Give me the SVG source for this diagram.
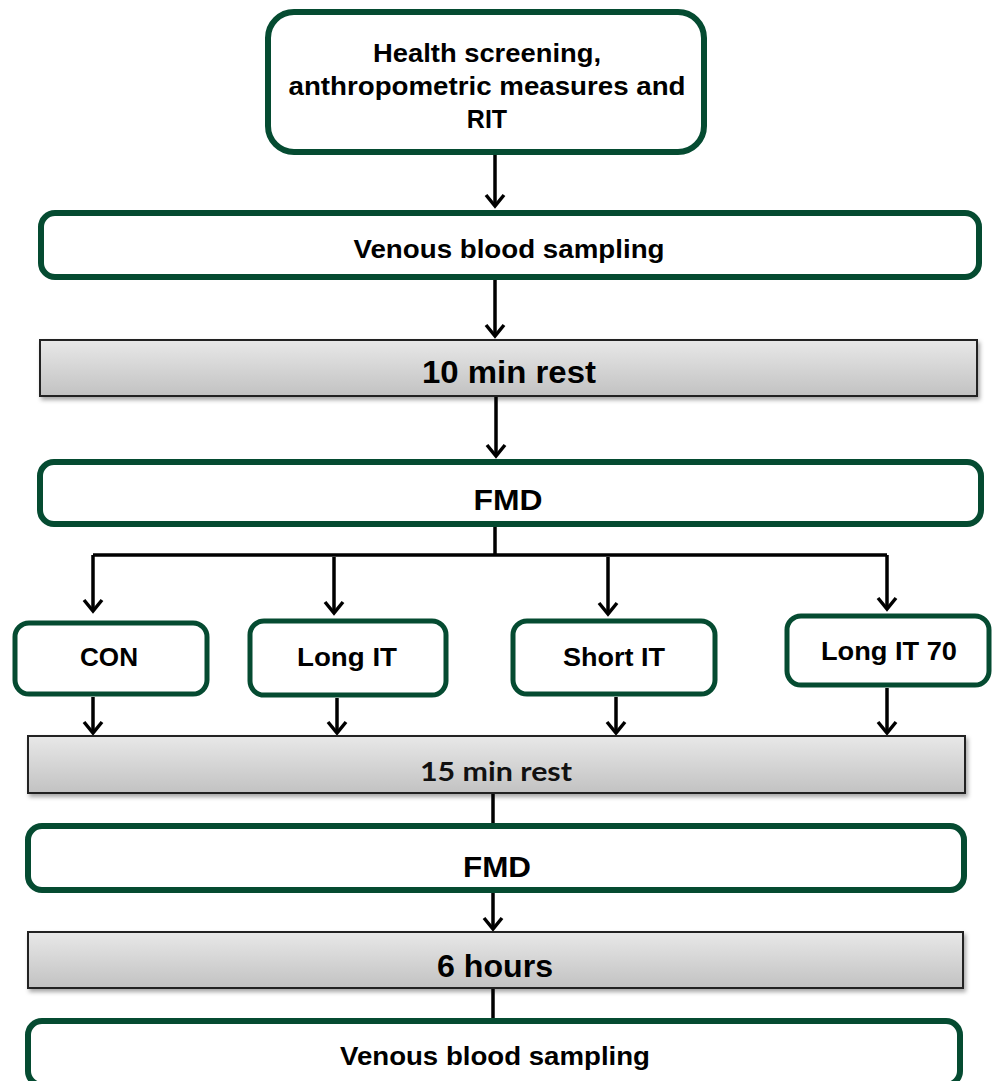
<svg xmlns="http://www.w3.org/2000/svg" xmlns:xlink="http://www.w3.org/1999/xlink" width="992" height="1081" viewBox="0 0 992 1081">
<defs>
<linearGradient id="gray" x1="0" y1="0" x2="0" y2="1">
<stop offset="0" stop-color="#e8e8e8"/>
<stop offset="1" stop-color="#c2c2c2"/>
</linearGradient>
<filter id="shadow" x="-5%" y="-20%" width="110%" height="150%">
<feDropShadow dx="2" dy="3" stdDeviation="2" flood-color="#000" flood-opacity="0.35"/>
</filter>
<path id="ah" d="M-9,-12 L0,-1 L9,-12"/>
</defs>
<style>
.g{fill:#fff;stroke:#054b31;stroke-width:6}
.gs{fill:#fff;stroke:#054b31;stroke-width:5}
.r{fill:url(#gray);stroke:#222;stroke-width:2;filter:url(#shadow)}
.t{font-family:"Liberation Sans",Arial,sans-serif;font-weight:bold;fill:#000;text-anchor:middle}
.c{font-family:Lato,"Open Sans",sans-serif;font-weight:bold;fill:#111;text-anchor:middle}
.ln{fill:none;stroke:#000;stroke-width:3.5}
.a{fill:none;stroke:#000;stroke-width:3.5;stroke-linejoin:miter}
</style>
<rect width="992" height="1081" fill="#fff"/>
<g id="connectors">
<path class="ln" d="M495,155 V206"/>
<use class="a" href="#ah" xlink:href="#ah" x="495" y="207"/>
<path class="ln" d="M495,280 V336"/>
<use class="a" href="#ah" xlink:href="#ah" x="495" y="337"/>
<path class="ln" d="M496,396 V456"/>
<use class="a" href="#ah" xlink:href="#ah" x="496" y="457"/>
<path class="ln" d="M495,525 V555 M93,555 H887"/>
<path class="ln" d="M93,555 V611"/>
<use class="a" href="#ah" xlink:href="#ah" x="93" y="612"/>
<path class="ln" d="M334,557 V613"/>
<use class="a" href="#ah" xlink:href="#ah" x="334" y="614"/>
<path class="ln" d="M608,557 V614"/>
<use class="a" href="#ah" xlink:href="#ah" x="608" y="615"/>
<path class="ln" d="M887,555 V609"/>
<use class="a" href="#ah" xlink:href="#ah" x="887" y="610"/>
<path class="ln" d="M93,697 V733"/>
<use class="a" href="#ah" xlink:href="#ah" x="93" y="734"/>
<path class="ln" d="M337,698 V733"/>
<use class="a" href="#ah" xlink:href="#ah" x="337" y="734"/>
<path class="ln" d="M616,697 V733"/>
<use class="a" href="#ah" xlink:href="#ah" x="616" y="734"/>
<path class="ln" d="M887,688 V733"/>
<use class="a" href="#ah" xlink:href="#ah" x="887" y="734"/>
<path class="ln" d="M493,793 V824"/>
<path class="ln" d="M493,893 V929"/>
<use class="a" href="#ah" xlink:href="#ah" x="493" y="930"/>
<path class="ln" d="M493,988 V1019"/>
</g>
<g id="n1">
<rect class="g" x="268" y="12" width="436" height="140" rx="26"/>
<text class="t" x="487" y="62" font-size="25" textLength="228" lengthAdjust="spacingAndGlyphs">Health screening,</text>
<text class="t" x="487" y="95" font-size="25" textLength="397" lengthAdjust="spacingAndGlyphs">anthropometric measures and</text>
<text class="t" x="487" y="128" font-size="25">RIT</text>
</g>
<g id="n2">
<rect class="g" x="41" y="213" width="938" height="64" rx="14"/>
<text class="t" x="509" y="258" font-size="25" textLength="311" lengthAdjust="spacingAndGlyphs">Venous blood sampling</text>
</g>
<g id="n3">
<rect class="r" x="40" y="340" width="937" height="56"/>
<text class="t" x="509" y="383" font-size="31" textLength="174" lengthAdjust="spacingAndGlyphs">10 min rest</text>
</g>
<g id="n4">
<rect class="g" x="40" y="462" width="941" height="62" rx="14"/>
<text class="t" x="508" y="510" font-size="30" textLength="69" lengthAdjust="spacingAndGlyphs">FMD</text>
</g>
<g id="n5">
<rect class="gs" x="15" y="623" width="192" height="71" rx="14"/>
<text class="t" x="109" y="666" font-size="25" textLength="58" lengthAdjust="spacingAndGlyphs">CON</text>
</g>
<g id="n6">
<rect class="gs" x="250" y="621" width="196" height="74" rx="14"/>
<text class="t" x="347" y="666" font-size="25" textLength="100" lengthAdjust="spacingAndGlyphs">Long IT</text>
</g>
<g id="n7">
<rect class="gs" x="513" y="621" width="202" height="73" rx="14"/>
<text class="t" x="614" y="666" font-size="25" textLength="102" lengthAdjust="spacingAndGlyphs">Short IT</text>
</g>
<g id="n8">
<rect class="gs" x="787" y="616" width="202" height="69" rx="14"/>
<text class="t" x="889" y="660" font-size="25" textLength="136" lengthAdjust="spacingAndGlyphs">Long IT 70</text>
</g>
<g id="n9">
<rect class="r" x="28" y="736" width="937" height="57"/>
<text class="c" x="496" y="781" font-size="27" textLength="152" lengthAdjust="spacingAndGlyphs">15 min rest</text>
</g>
<g id="n10">
<rect class="g" x="28" y="826" width="936" height="64" rx="14"/>
<text class="t" x="497" y="877" font-size="30" textLength="68" lengthAdjust="spacingAndGlyphs">FMD</text>
</g>
<g id="n11">
<rect class="r" x="28" y="932" width="935" height="56"/>
<text class="t" x="495" y="977" font-size="31" textLength="116" lengthAdjust="spacingAndGlyphs">6 hours</text>
</g>
<g id="n12">
<rect class="g" x="28" y="1021" width="932" height="64" rx="14"/>
<text class="t" x="495" y="1065" font-size="25" textLength="310" lengthAdjust="spacingAndGlyphs">Venous blood sampling</text>
</g>
</svg>
